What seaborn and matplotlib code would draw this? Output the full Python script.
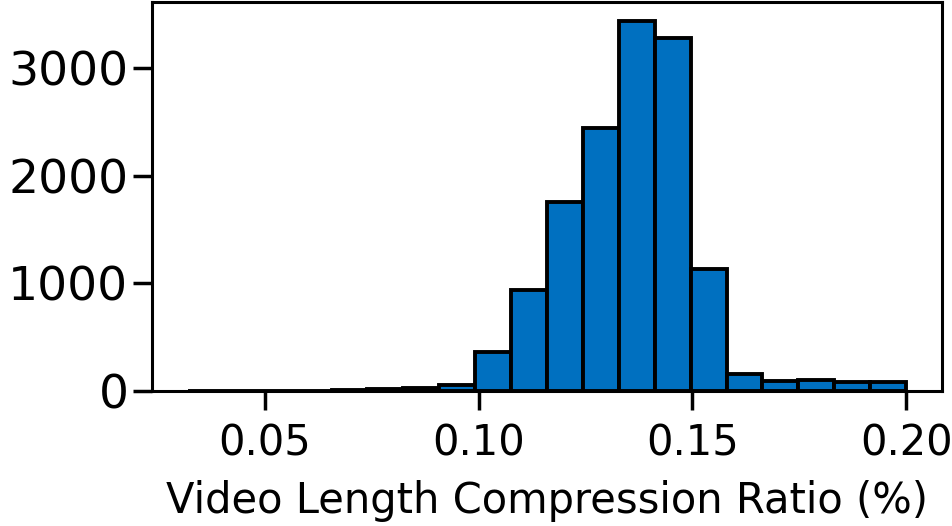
import numpy as np
import pandas as pd
from matplotlib import pyplot as plt
import seaborn as sns

# histogram: 20 bins between 0.032 and 0.2
bin_lo = 0.032
bin_hi = 0.2
n_bins = 20
counts = [2, 2, 3, 4, 8, 15, 25, 60, 360, 935, 1760, 2445, 3444, 3287,
          1130, 160, 93, 100, 80, 85]
x_ticks = [0.05, 0.10, 0.15, 0.20]
y_ticks = [0, 1000, 2000, 3000]

edges = np.linspace(bin_lo, bin_hi, n_bins + 1)
df = pd.DataFrame({"ratio": (edges[:-1] + edges[1:]) / 2, "count": counts})

sns.set_style("ticks", {"axes.edgecolor": "black", "text.color": "black",
                        "xtick.color": "black", "ytick.color": "black",
                        "axes.labelcolor": "black"})
plt.rcParams['font.family'] = ['DejaVu Sans']

fig = plt.figure(figsize=(9.53, 5.26), dpi=100)
ax = fig.add_axes([0.1595, 0.2567, 0.829, 0.7393])

sns.histplot(data=df, x="ratio", weights="count", bins=list(edges), color="#0070C0",
             edgecolor="black", linewidth=2.8, alpha=1, ax=ax)

ax.set_xticks(x_ticks)
ax.set_xticklabels([f"{t:.2f}" for t in x_ticks])
ax.set_yticks(y_ticks)
ax.set_ylabel("")
ax.set_xlabel("Video Length Compression Ratio (%)", fontsize=30, labelpad=11)
ax.tick_params(axis='x', labelsize=30, length=14, width=2.5, pad=9)
ax.tick_params(axis='y', labelsize=34, length=14, width=2.5, pad=3)
for s in ax.spines.values():
    s.set_visible(True)
    s.set_linewidth(2.2)

plt.savefig("out.png", dpi=100)
